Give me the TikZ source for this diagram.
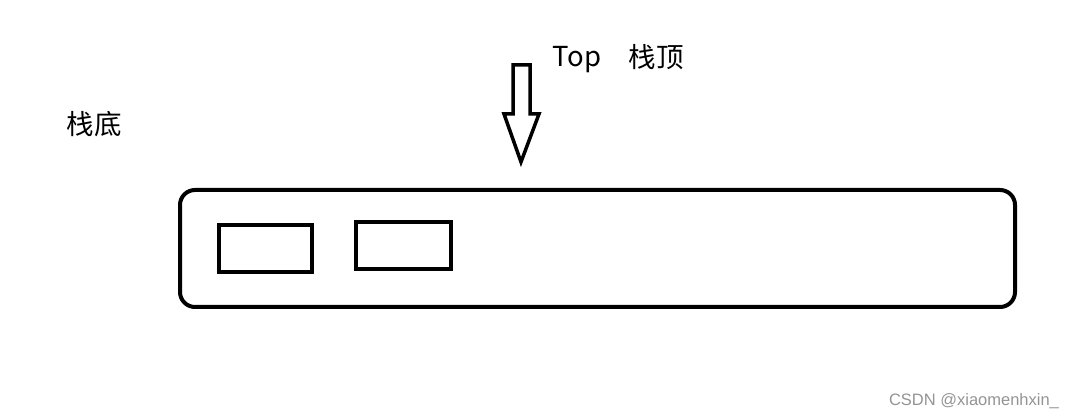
\documentclass[tikz,border=0pt]{standalone}
\usepackage{fontspec}
\setmainfont{Noto Sans CJK SC}
\newfontfamily\markfont{Liberation Sans}
\usetikzlibrary{calc}

\tikzset{
	label text/.style={font=\fontsize{27.5}{31}\selectfont, inner sep=0pt},
	cell/.style={line width=4pt},
}

\begin{document}
\begin{tikzpicture}[x=1pt, y=1pt]

		\useasboundingbox (0,0) rectangle (1075,419);

		\coordinate (S1) at (180,112);
		\coordinate (S2) at (1015,229);

		\coordinate (C1) at (219,147);
		\coordinate (C2) at (312,194);
		\coordinate (D1) at (356,150);
		\coordinate (D2) at (451,197);

		% stack body
		\draw[line width=4pt, rounded corners=15pt] (S1) rectangle (S2);

		\draw[cell] (C1) rectangle (C2);
		\draw[cell] (D1) rectangle (D2);

		% top pointer
		\draw[line width=3.5pt, line join=miter]
			(513,354) -- (530,354) -- (530,305) -- (539,305) -- (521,257)
			-- (504,305) -- (513,305) -- cycle;

		\node[label text] (top) at (577,359) {Top};
		\node[label text] (topcn) at (656,362) {栈顶};
		\node[label text] (bottom) at (94,295) {栈底};

		\node[font=\markfont\fontsize{16.5}{18}\selectfont, text=black!42, inner sep=0pt] (mark) at (974,18) {CSDN @xiaomenhxin\_};

	\end{tikzpicture}
\end{document}
